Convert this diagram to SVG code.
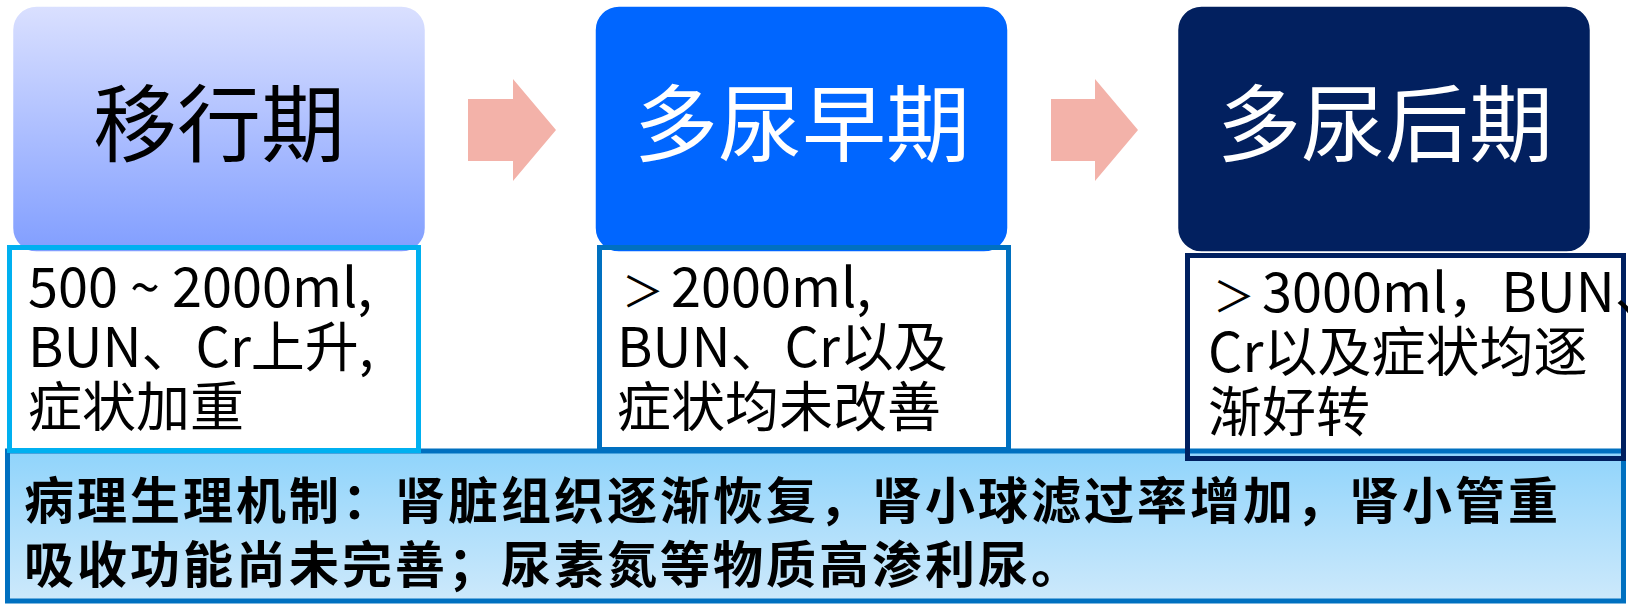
<svg xmlns="http://www.w3.org/2000/svg" width="1628" height="605" viewBox="0 0 1628 605">
  <defs>
    <linearGradient id="g1" x1="0" y1="0" x2="0" y2="1">
      <stop offset="0" stop-color="#DAE0FF"/>
      <stop offset="1" stop-color="#819EFF"/>
    </linearGradient>
    <linearGradient id="gp" x1="0" y1="0" x2="0" y2="1">
      <stop offset="0" stop-color="#90D4FB"/>
      <stop offset="1" stop-color="#CDE9FB"/>
    </linearGradient>
  </defs>
  <style>
    .hdr { stroke: #FFFFFF; stroke-width: 1.5; }
    .ht { font-family: "Noto Sans CJK SC", "Liberation Sans", sans-serif; font-size: 84px; text-anchor: middle; }
    .tb { fill: none; stroke-width: 5; }
    .bt { font-family: "Noto Sans CJK SC", "Liberation Sans", sans-serif; font-size: 54px; fill: #000000; }
    .gt { font-size: 42px; }
    .pt { font-family: "Noto Sans CJK SC", "Liberation Sans", sans-serif; font-size: 50px; font-weight: bold; letter-spacing: 3px; fill: #000000; }
    .arr { fill: #F3B2A9; }
  </style>

  <g id="header1">
    <rect class="hdr" x="12.5" y="6" width="413" height="246" rx="24" fill="url(#g1)"/>
    <text class="ht" x="219" y="155" fill="#000000">移行期</text>
  </g>
  <g id="header2">
    <rect class="hdr" x="595" y="6" width="413" height="246" rx="24" fill="#0066FF"/>
    <text class="ht" x="802" y="155" fill="#FFFFFF">多尿早期</text>
  </g>
  <g id="header3">
    <rect class="hdr" x="1177.5" y="6" width="413" height="246" rx="24" fill="#02205F"/>
    <text class="ht" x="1385" y="155" fill="#FFFFFF">多尿后期</text>
  </g>

  <g id="connectors">
    <polygon class="arr" points="468,99 513,99 513,79 556,130 513,181 513,161 468,161"/>
    <polygon class="arr" points="1051,99 1095,99 1095,79 1138,130 1095,181 1095,161 1051,161"/>
  </g>

  <g id="panel">
    <rect x="7.5" y="451" width="1616" height="150" fill="url(#gp)" stroke="#0070C0" stroke-width="5"/>
    <text class="pt" x="24" y="519">病理生理机制：肾脏组织逐渐恢复，肾小球滤过率增加，肾小管重</text>
    <text class="pt" x="24" y="583">吸收功能尚未完善；尿素氮等物质高渗利尿。</text>
  </g>

  <g id="box1">
    <rect class="tb" x="9.5" y="247.5" width="409" height="203" stroke="#00B0F0"/>
    <text class="bt" x="28" y="307">500 ~ 2000ml,</text>
    <text class="bt" x="28" y="367">BUN、Cr上升,</text>
    <text class="bt" x="28" y="427">症状加重</text>
  </g>
  <g id="box2">
    <rect class="tb" x="599.5" y="247.5" width="409" height="202" stroke="#0070C0"/>
    <text class="bt" x="617" y="307"><tspan class="gt" dx="5">＞</tspan><tspan dx="7">2000ml,</tspan></text>
    <text class="bt" x="617" y="367">BUN、Cr以及</text>
    <text class="bt" x="617" y="427">症状均未改善</text>
  </g>
  <g id="box3">
    <rect class="tb" x="1187.5" y="255.5" width="436" height="203" stroke="#002060"/>
    <text class="bt" x="1208" y="312"><tspan class="gt" dx="5">＞</tspan><tspan dx="7">3000ml，BUN、</tspan></text>
    <text class="bt" x="1208" y="372">Cr以及症状均逐</text>
    <text class="bt" x="1208" y="432">渐好转</text>
  </g>
</svg>
